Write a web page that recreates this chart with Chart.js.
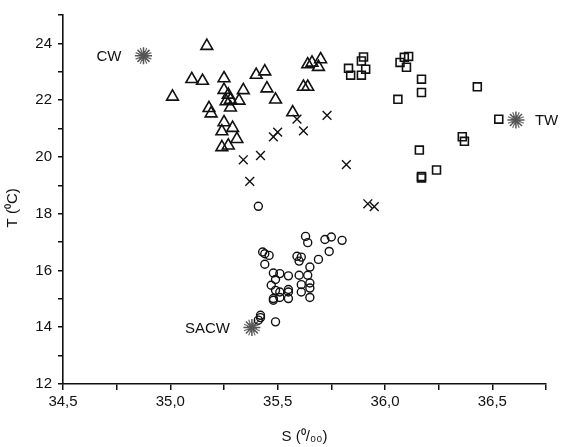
<!DOCTYPE html>
<html>
<head>
<meta charset="utf-8">
<script src="https://cdn.jsdelivr.net/npm/chart.js@4/dist/chart.umd.min.js"></script>
<style>
  body { margin: 0; background: #fff; }
</style>
</head>
<body>
<canvas id="Chart" width="561" height="447"></canvas>
<script>
// triangulos
const triS = [35.01, 35.10, 35.15, 35.17, 35.18, 35.19, 35.25, 35.25, 35.27, 35.26,
  35.28, 35.28, 35.25, 35.24, 35.29, 35.24, 35.27, 35.31, 35.32, 35.34,
  35.40, 35.44, 35.45, 35.49, 35.57, 35.62, 35.64, 35.64, 35.66, 35.69, 35.70];
const triT = [22.12, 22.74, 22.68, 23.91, 21.72, 21.53, 22.77, 22.36, 22.19, 21.96,
  22.01, 21.74, 21.22, 20.90, 21.02, 20.34, 20.40, 20.63, 21.98, 22.35,
  22.89, 23.01, 22.41, 22.02, 21.57, 22.47, 22.47, 23.26, 23.32, 23.17, 23.44];

// cruzes
const crossS = [35.73, 35.59, 35.62, 35.50, 35.48, 35.42, 35.34, 35.37, 35.82, 35.92, 35.95];
const crossT = [21.46, 21.33, 20.92, 20.87, 20.71, 20.05, 19.90, 19.14, 19.73, 18.35, 18.25];

// quadrados
const sqS = [35.90, 35.89, 35.91, 35.89, 35.83, 35.84, 36.07, 36.09, 36.11, 36.10,
  36.17, 36.17, 36.06, 36.43, 36.36, 36.37, 36.16, 36.24, 36.17, 36.17, 36.53];
const sqT = [23.52, 23.38, 23.09, 22.88, 23.12, 22.88, 23.33, 23.51, 23.54, 23.16,
  22.74, 22.27, 22.03, 22.47, 20.71, 20.55, 20.24, 19.54, 19.31, 19.26, 21.33];

// circulos
const circS = [35.41, 35.63, 35.64, 35.72, 35.75, 35.80, 35.74, 35.69, 35.65, 35.43,
  35.44, 35.46, 35.44, 35.59, 35.61, 35.60, 35.48, 35.51, 35.55, 35.60,
  35.64, 35.49, 35.47, 35.61, 35.65, 35.49, 35.51, 35.55, 35.55, 35.61,
  35.65, 35.48, 35.51, 35.55, 35.65, 35.48, 35.42, 35.42, 35.41, 35.49];
const circT = [18.26, 17.20, 16.98, 17.09, 17.18, 17.06, 16.67, 16.39, 16.12, 16.65,
  16.59, 16.53, 16.22, 16.50, 16.47, 16.33, 15.91, 15.89, 15.81, 15.83,
  15.83, 15.68, 15.48, 15.50, 15.56, 15.30, 15.24, 15.33, 15.24, 15.24,
  15.38, 15.01, 15.05, 15.01, 15.05, 14.95, 14.42, 14.34, 14.25, 14.19];

// massas de agua
const massNames = ['CW', 'TW', 'SACW'];
const massS = [34.875, 36.61, 35.38];
const massT = [23.56, 21.30, 13.99];

// eixos
const xMin = 34.5, xMax = 36.75, xStep = 0.25;
const yMin = 12, yMax = 25, yStep = 1;

function pts(xs, ys) {
  return xs.map((v, i) => ({x: v, y: ys[i]}));
}

const FONT = '"Liberation Sans", Arial, sans-serif';

const massLabels = {
  id: 'massLabels',
  afterDatasetsDraw(chart) {
    const ctx = chart.ctx;
    const x = chart.scales.x, y = chart.scales.y;
    ctx.save();
    ctx.font = '15px ' + FONT;
    ctx.fillStyle = '#111';
    ctx.textBaseline = 'middle';
    massNames.forEach((name, i) => {
      const px = x.getPixelForValue(massS[i]);
      const py = y.getPixelForValue(massT[i]);
      if (name == 'TW') {
        ctx.textAlign = 'left';
        ctx.fillText(name, px + 19, py + 1);
      } else {
        ctx.textAlign = 'right';
        ctx.fillText(name, px - 22, py + 1);
      }
    });
    ctx.restore();
  }
};

const data = {
  datasets: [
    {
      label: 'triangulos',
      data: pts(triS, triT),
      pointStyle: 'triangle',
      pointRadius: 6.8,
      borderColor: '#111',
      backgroundColor: 'rgba(0,0,0,0)',
      borderWidth: 1.6
    },
    {
      label: 'cruzes',
      data: pts(crossS, crossT),
      pointStyle: 'crossRot',
      pointRadius: 6.2,
      borderColor: '#111',
      borderWidth: 1.4
    },
    {
      label: 'quadrados',
      data: pts(sqS, sqT),
      pointStyle: 'rect',
      pointRadius: 5.6,
      borderColor: '#111',
      backgroundColor: 'rgba(0,0,0,0)',
      borderWidth: 1.6
    },
    {
      label: 'circulos',
      data: pts(circS, circT),
      pointStyle: 'circle',
      pointRadius: 4,
      borderColor: '#111',
      backgroundColor: 'rgba(0,0,0,0)',
      borderWidth: 1.4
    },
    {
      label: 'massas',
      data: pts(massS, massT),
      pointStyle: 'star',
      pointRadius: 8.5,
      borderColor: '#555',
      borderWidth: 1.5
    },
    {
      label: 'massas2',
      data: pts(massS, massT),
      pointStyle: 'star',
      pointRadius: 8.5,
      rotation: 22.5,
      borderColor: '#666',
      borderWidth: 1.2
    },
    {
      label: 'massas3',
      data: pts(massS, massT),
      pointStyle: 'star',
      pointRadius: 5,
      rotation: 11,
      borderColor: '#444',
      borderWidth: 1.2
    }
  ]
};

const config = {
  type: 'scatter',
  data: data,
  plugins: [massLabels],
  options: {
    responsive: false,
    animation: false,
    layout: {padding: {left: 0, right: 15, top: 14, bottom: 0}},
    plugins: {legend: {display: false}, tooltip: {enabled: false}},
    scales: {
      x: {
        type: 'linear',
        min: xMin,
        max: xMax,
        afterFit(scale) { scale.height = 63; },
        afterBuildTicks(scale) {
          const t = [];
          for (let v = xMin; v <= xMax + 1e-9; v += xStep) t.push({value: Math.round(v * 100) / 100});
          scale.ticks = t;
        },
        ticks: {
          autoSkip: false,
          maxRotation: 0,
          padding: 3,
          color: '#111',
          font: {family: FONT, size: 15},
          callback: v => Math.abs(v * 2 - Math.round(v * 2)) < 1e-6 ? v.toFixed(1).replace('.', ',') : ''
        },
        grid: {drawOnChartArea: false, tickLength: 6, tickColor: '#111', lineWidth: 1.5},
        border: {color: '#111', width: 1.6},
        title: {
          display: true,
          text: 'S (\u2070/\u2080\u2080)',
          color: '#111',
          font: {family: FONT, size: 15},
          padding: {top: 0, bottom: 1}
        }
      },
      y: {
        type: 'linear',
        min: yMin,
        max: yMax,
        afterFit(scale) { scale.width = 63; },
        afterBuildTicks(scale) {
          const t = [];
          for (let v = yMin; v <= yMax; v += yStep) t.push({value: v});
          scale.ticks = t;
        },
        ticks: {
          autoSkip: false,
          padding: 6,
          color: '#111',
          font: {family: FONT, size: 15},
          callback: v => (v % 2 == 0 && v < yMax) ? String(v) : ''
        },
        grid: {drawOnChartArea: false, tickLength: 5, tickColor: '#111', lineWidth: 1.5},
        border: {color: '#111', width: 1.6},
        title: {
          display: true,
          text: 'T (\u2070C)    ',
          color: '#111',
          font: {family: FONT, size: 15},
          padding: {top: 4, bottom: 0}
        }
      }
    }
  }
};

var myChart = new Chart(document.getElementById('Chart'), config);
</script>
</body>
</html>
